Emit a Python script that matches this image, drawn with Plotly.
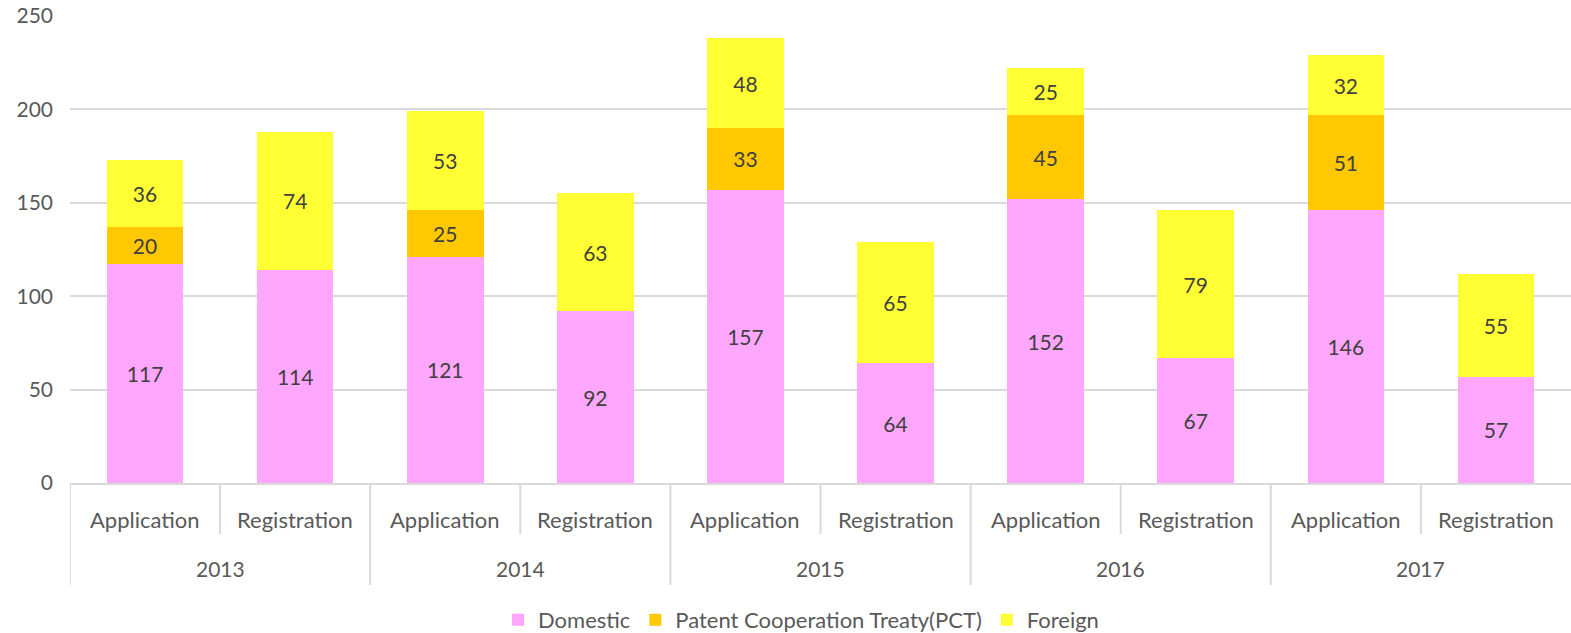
import plotly.graph_objects as go

years = ["2013", "2014", "2015", "2016", "2017"]
kinds = ["Application", "Registration"]
domestic = [117, 114, 121, 92, 157, 64, 152, 67, 146, 57]
pct = [20, None, 25, None, 33, None, 45, None, 51, None]
foreign = [36, 74, 53, 63, 48, 65, 25, 79, 32, 55]
y_ticks = [0, 50, 100, 150, 200, 250]

FONT = "Lato"
FS = 21
TXT = "#595959"
LBL = "#404040"
GRID = "#D9D9D9"

xs = list(range(len(domestic)))

fig = go.Figure()
for name, vals, color in [
    ("Domestic", domestic, "#FFA6FF"),
    ("Patent Cooperation Treaty(PCT)", pct, "#FFC800"),
    ("Foreign", foreign, "#FFFF33"),
]:
    fig.add_trace(go.Bar(
        x=xs, y=vals, name=name, marker=dict(color=color, line=dict(width=0)),
        text=[("" if v is None else str(v)) for v in vals],
        textposition="inside", insidetextanchor="middle",
        textfont=dict(family=FONT, size=FS, color=LBL),
        constraintext="none",
    ))

ann = []
shapes = []
y_sub = (483 - 519) / 467
y_year = (483 - 568) / 467
y_short = (483 - 534) / 467
y_full = (483 - 585) / 467
for i in xs:
    ann.append(dict(x=i, y=y_sub, xref="x", yref="paper", text=kinds[i % 2],
                    showarrow=False, font=dict(family=FONT, size=FS + 1, color=TXT),
                    xanchor="center", yanchor="middle"))
for j, yr in enumerate(years):
    ann.append(dict(x=2 * j + 0.5, y=y_year, xref="x", yref="paper", text=yr,
                    showarrow=False, font=dict(family=FONT, size=FS, color=TXT),
                    xanchor="center", yanchor="middle"))
    shapes.append(dict(type="line", xref="x", yref="paper", x0=2 * j - 0.5, x1=2 * j - 0.5,
                       y0=0, y1=y_full, line=dict(color=GRID, width=2)))
    shapes.append(dict(type="line", xref="x", yref="paper", x0=2 * j + 0.5, x1=2 * j + 0.5,
                       y0=0, y1=y_short, line=dict(color=GRID, width=2)))

fig.update_layout(
    width=1571, height=633,
    margin=dict(l=70, r=0, t=16, b=150, autoexpand=False),
    barmode="stack", bargap=0.49,
    plot_bgcolor="white", paper_bgcolor="white",
    font=dict(family=FONT, size=FS, color=TXT),
    uniformtext=dict(minsize=FS, mode="show"),
    xaxis=dict(range=[-0.5, 9.5], showticklabels=False, showgrid=False, zeroline=False,
               showline=True, linecolor=GRID, linewidth=2, ticks="", automargin=False),
    yaxis=dict(range=[0, 250], tickvals=y_ticks, showgrid=True, gridcolor=GRID, gridwidth=2,
               zeroline=False, showline=False, ticks="", ticklabelstandoff=16, automargin=False,
               tickfont=dict(family=FONT, size=FS, color=TXT)),
    legend=dict(orientation="h", x=0.487, xanchor="center", y=(483 - 620) / 467, yanchor="middle",
                font=dict(family=FONT, size=FS + 1, color=TXT), itemwidth=30, traceorder="normal"),
    annotations=ann, shapes=shapes,
)

fig.write_html("out.html", config={"displayModeBar": False},
               post_script="document.body.style.margin='0';document.body.style.overflow='hidden';")
